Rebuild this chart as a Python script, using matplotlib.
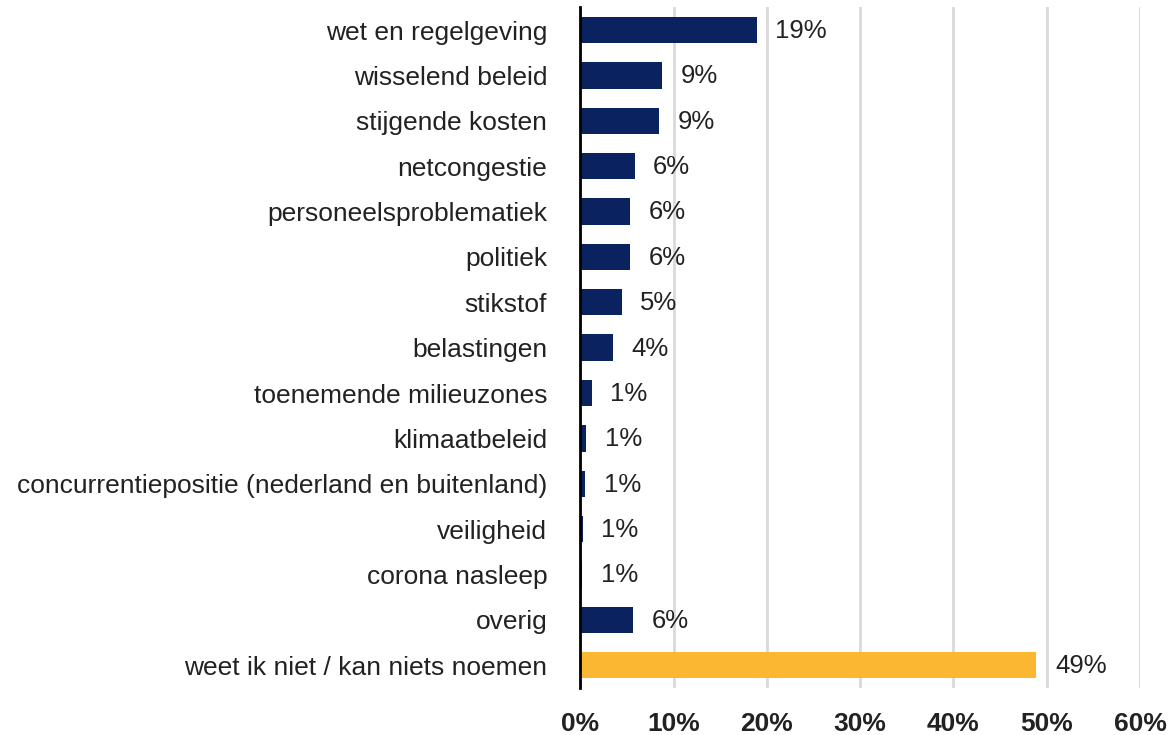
import matplotlib
matplotlib.use("Agg")
import matplotlib.pyplot as plt

categories = ["wet en regelgeving", "wisselend beleid", "stijgende kosten", "netcongestie",
              "personeelsproblematiek", "politiek", "stikstof", "belastingen",
              "toenemende milieuzones", "klimaatbeleid",
              "concurrentiepositie (nederland en buitenland)", "veiligheid",
              "corona nasleep", "overig", "weet ik niet / kan niets noemen"]
values = [18.9, 8.7, 8.4, 5.8, 5.3, 5.3, 4.4, 3.5, 1.2, 0.6, 0.5, 0.25, 0.15, 5.6, 48.9]
value_labels = ["19%", "9%", "9%", "6%", "6%", "6%", "5%", "4%", "1%", "1%", "1%", "1%", "1%", "6%", "49%"]
xticks = [0, 10, 20, 30, 40, 50, 60]
xtick_labels = ["0%", "10%", "20%", "30%", "40%", "50%", "60%"]

plt.rcParams['font.family'] = ['Liberation Sans', 'DejaVu Sans']

fig = plt.figure(figsize=(11.68, 7.35), dpi=100)
ax = fig.add_axes([0.497, 0.064, 0.479, 0.926])

colors = ["#0b2261"] * (len(values) - 1) + ["#fbb732"]
y = list(range(len(categories)))
ax.barh(y, values, height=0.58, color=colors, zorder=3)
for yi, v, lab in zip(y, values, value_labels):
    ax.text(v + 2.0, yi + 0.02, lab, va="center", ha="left", fontsize=18.5, color="#222222")

ax.set_ylim(len(categories) - 0.5, -0.5)
ax.set_xlim(0, 60)
ax.set_yticks(y)
ax.set_yticklabels(categories, fontsize=19, color="#222222")
ax.set_xticks(xticks)
ax.set_xticklabels(xtick_labels, fontsize=19, fontweight="bold", color="#222222")
ax.tick_params(axis="y", length=0, pad=24)
ax.tick_params(axis="x", length=0, pad=17)
ax.xaxis.grid(True, color="#d9d9d9", linewidth=2, zorder=0)
for s in ["top", "right", "bottom"]:
    ax.spines[s].set_visible(False)
ax.spines["left"].set_color("black")
ax.spines["left"].set_linewidth(2)
ax.spines["left"].set_zorder(4)

fig.savefig("out.png", dpi=100)
